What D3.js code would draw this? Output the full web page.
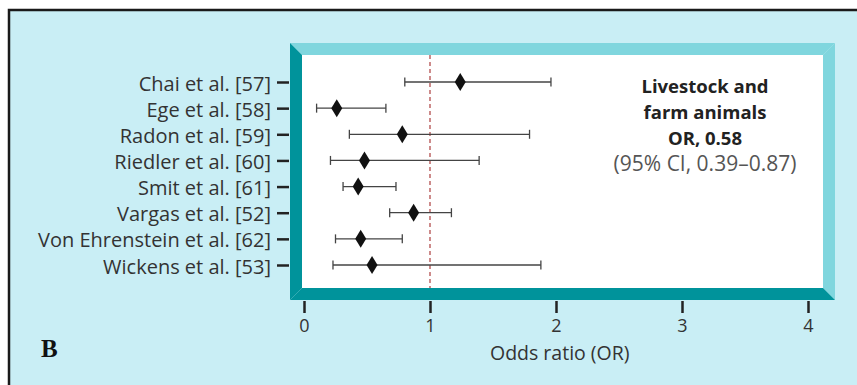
<!DOCTYPE html>
<html><head><meta charset="utf-8">
<script src="https://cdn.jsdelivr.net/npm/d3@7/dist/d3.min.js"></script>
<style>body{margin:0;background:#fff}svg{display:block}</style>
</head><body>
<svg id="c" width="857" height="385"></svg>
<script>
const studies = ["Chai et al. [57]","Ege et al. [58]","Radon et al. [59]","Riedler et al. [60]","Smit et al. [61]","Vargas et al. [52]","Von Ehrenstein et al. [62]","Wickens et al. [53]"];
const orValues = [1.24,0.26,0.78,0.48,0.43,0.87,0.45,0.54];
const ciLower = [0.80,0.10,0.36,0.21,0.31,0.68,0.25,0.23];
const ciUpper = [1.96,0.65,1.79,1.39,0.73,1.17,0.78,1.88];
const xTicks = [0,1,2,3,4];
const annotation = ["Livestock and","farm animals","OR, 0.58"];
const annotationCI = "(95% CI, 0.39\u20130.87)";

const svg = d3.select("#c");
const font = "'Open Sans', Lato, sans-serif";
// panel
svg.append("rect").attr("x",9).attr("y",10).attr("width",900).attr("height",400).attr("fill","#c9eef5").attr("stroke","#1a1a1a").attr("stroke-width",2.5);

const x = d3.scaleLinear().domain([0,4]).range([304,808]);
const y = d3.scalePoint().domain(studies).range([82,265]);

// frame
const L=290,T=43,R=835,B=300,w=12;
const light="#80d6de", dark="#00939b";
svg.append("rect").attr("x",L+w).attr("y",T+w).attr("width",R-L-2*w).attr("height",B-T-2*w).attr("fill","#fff");
svg.append("polygon").attr("points",`${L},${T} ${R},${T} ${R-w},${T+w} ${L+w},${T+w}`).attr("fill",light);
svg.append("polygon").attr("points",`${R},${T} ${R},${B} ${R-w},${B-w} ${R-w},${T+w}`).attr("fill",light);
svg.append("polygon").attr("points",`${L},${T} ${L+w},${T+w} ${L+w},${B-w} ${L},${B}`).attr("fill",dark);
svg.append("polygon").attr("points",`${L},${B} ${L+w},${B-w} ${R-w},${B-w} ${R},${B}`).attr("fill",dark);

// reference line
svg.append("line").attr("x1",x(1)).attr("x2",x(1)).attr("y1",T+w).attr("y2",B-w)
  .attr("stroke","#b85a5a").attr("stroke-width",1.4).attr("stroke-dasharray","4,3");

// x axis
const xAxis = d3.axisBottom(x).tickValues(xTicks).tickFormat(d3.format("d")).tickSize(12).tickPadding(6);
const gx = svg.append("g").attr("transform",`translate(0,${B+1})`).call(xAxis);
gx.select(".domain").remove();
gx.selectAll(".tick line").attr("stroke","#222").attr("stroke-width",2.5);
gx.selectAll(".tick text").attr("fill","#333").style("font-family",font).style("font-size","18px");

// y axis
const yAxis = d3.axisLeft(y).tickSize(12).tickPadding(6);
const gy = svg.append("g").attr("transform",`translate(${L-1},0)`).call(yAxis);
gy.select(".domain").remove();
gy.selectAll(".tick line").attr("stroke","#222").attr("stroke-width",2.5);
gy.selectAll(".tick text").attr("fill","#333").attr("dy","0.4em").style("font-family",font).style("font-size","20px");

// error bars
const g = svg.append("g");
studies.forEach((s,i)=>{
  const yy=y(s);
  g.append("line").attr("x1",x(ciLower[i])).attr("x2",x(ciUpper[i])).attr("y1",yy).attr("y2",yy).attr("stroke","#444").attr("stroke-width",1.3);
  [ciLower[i],ciUpper[i]].forEach(v=>{
    g.append("line").attr("x1",x(v)).attr("x2",x(v)).attr("y1",yy-4.5).attr("y2",yy+4.5).attr("stroke","#444").attr("stroke-width",1.3);
  });
  const cx=x(orValues[i]);
  g.append("polygon").attr("points",`${cx},${yy-9} ${cx+5.5},${yy} ${cx},${yy+9} ${cx-5.5},${yy}`).attr("fill","#111");
});

// annotation
const ax=705;
annotation.forEach((t,i)=>{
  svg.append("text").attr("x",ax).attr("y",93+i*26).attr("text-anchor","middle").attr("fill","#222")
    .style("font-family",font).style("font-size","18.5px").style("font-weight","bold").text(t);
});
svg.append("text").attr("x",ax).attr("y",171).attr("text-anchor","middle").attr("fill","#555")
  .style("font-family",font).style("font-size","21px").text(annotationCI);

// x label
svg.append("text").attr("x",x(2.03)).attr("y",360).attr("text-anchor","middle").attr("fill","#333")
  .style("font-family",font).style("font-size","19.5px").text("Odds ratio (OR)");
// panel letter
svg.append("text").attr("x",41).attr("y",357).attr("fill","#111")
  .style("font-family","'Liberation Serif', serif").style("font-size","25px").style("font-weight","bold").text("B");
</script>
</body></html>
